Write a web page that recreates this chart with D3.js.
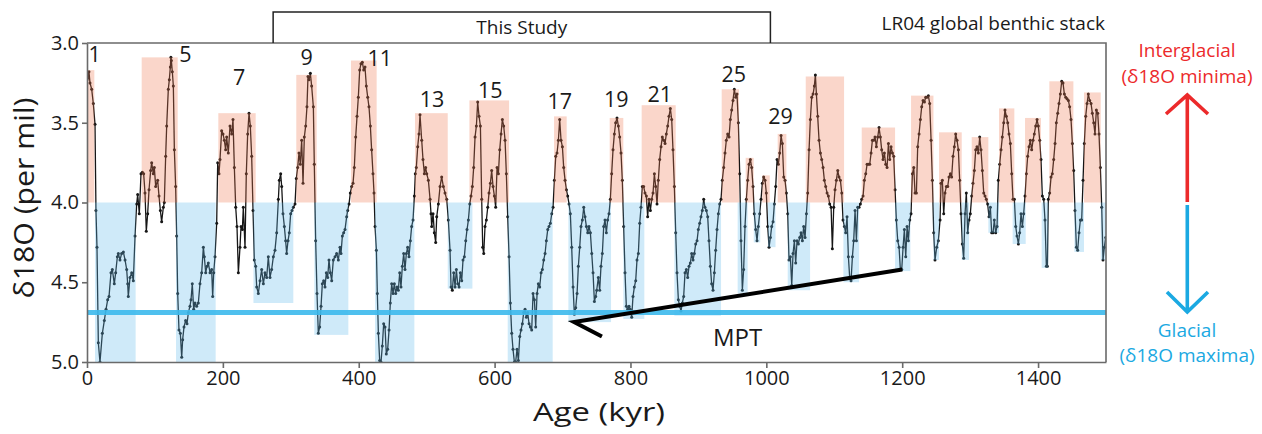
<!DOCTYPE html>
<html><head><meta charset="utf-8">
<script src="https://cdn.jsdelivr.net/npm/d3@7"></script>
<style>
body{margin:0;background:#fff}
text{font-family:"Open Sans",sans-serif}
</style>
</head><body>
<svg id="chart" width="1262" height="434"></svg>
<script>
// LR04 global benthic d18O stack, [age kyr, d18O per mil]
const lr04 = [
[0,3.23],[1,3.22],[2.9,3.18],[4.4,3.25],[6.9,3.29],[9.3,3.38],[11.8,3.51],[13.2,4.05],[14.7,4.28],[16.7,4.88],[19.1,5.00],
[22.6,4.82],[25.5,4.74],[28,4.67],[30.4,4.61],[32.4,4.59],[35.3,4.44],[37.3,4.42],[40.2,4.51],[42.2,4.44],[44.7,4.34],
[46.1,4.32],[48.6,4.36],[51,4.32],[53.5,4.31],[56,4.36],[58.4,4.42],[59.9,4.51],[60.8,4.59],[63.3,4.47],[65.8,4.44],
[68.2,4.49],[70.7,4.21],[73.1,4.01],[74.6,3.95],[77,4.07],[79.5,3.82],[81.5,3.81],[83.4,3.82],[85.4,3.94],[87.3,4.18],
[89.3,4.07],[91.3,3.92],[93.7,3.80],[95.2,3.75],[97.6,3.82],[99.1,3.78],[101.1,3.90],[104,3.86],[106,3.96],[108,4.05],
[109.9,4.12],[112.4,4.03],[113.8,4.00],[115.8,3.71],[117.3,3.52],[119.7,3.29],[121.2,3.23],[122.7,3.15],[123.5,3.09],[124.2,3.11],
[125.6,3.18],[127.1,3.27],[128.6,3.67],[130.5,3.90],[132,4.21],[133.5,4.57],[135.4,4.80],[137.4,4.82],[139.4,4.97],[140.8,4.86],
[142.8,4.78],[145.2,4.74],[147.2,4.76],[149.2,4.69],[151.6,4.65],[153.1,4.61],[155,4.51],[157,4.67],[159,4.63],[161.4,4.65],
[163.9,4.63],[166.3,4.51],[168.8,4.44],[171.3,4.28],[172.7,4.34],[174.7,4.44],[176.6,4.40],[178.6,4.38],[181.1,4.44],[183.5,4.42],
[185,4.59],[186.5,4.44],[188.4,4.34],[190.9,4.13],[192.4,3.75],[194.3,3.82],[195.8,3.73],[198.2,3.55],[200.2,3.57],[202.2,3.61],
[204.1,3.67],[205.6,3.59],[208,3.69],[210.5,3.52],[213,3.57],[214.9,3.48],[216.9,3.78],[218.9,4.03],[220.8,4.15],[222.8,4.44],
[225.2,4.28],[226.7,4.15],[228.7,4.17],[230.1,4.03],[232.6,4.28],[234.5,3.82],[236.5,3.57],[238.5,3.44],[240.4,3.52],[242.4,3.71],
[244.4,4.05],[246.3,4.36],[248.3,4.40],[249.8,4.53],[252.2,4.57],[254.7,4.49],[257.1,4.42],[259.6,4.51],[262,4.44],[264.5,4.47],
[266.9,4.34],[269.4,4.47],[271.8,4.42],[274.3,4.34],[276.7,4.30],[279.2,4.19],[281.7,3.98],[283.1,3.86],[285.1,3.82],[286.6,3.90],
[288.5,4.07],[290.5,4.15],[292.4,4.24],[293.9,4.32],[295.9,4.24],[297.8,4.19],[299.8,4.07],[301.8,4.05],[303.7,4.03],[306.2,4.01],
[308.1,3.85],[310.1,3.78],[312.1,3.69],[314,3.76],[316,3.61],[318,3.88],[319.9,3.59],[321.9,3.52],[323.8,3.40],[325.3,3.21],
[326.8,3.23],[328.8,3.19],[330.7,3.27],[333.2,3.40],[334.6,3.76],[336.6,4.24],[338.6,4.57],[340.5,4.82],[342.5,4.78],[344.5,4.65],
[346.4,4.51],[348.4,4.49],[350.3,4.53],[352.3,4.44],[354.3,4.47],[356.2,4.36],[358.2,4.44],[360.2,4.49],[362.6,4.36],[365.1,4.34],
[367.5,4.32],[370,4.36],[372.4,4.28],[373.9,4.32],[375.9,4.21],[377.8,4.19],[379.8,4.17],[382.2,4.09],[383.7,4.05],[385.7,4.01],
[387.6,3.94],[389.6,3.90],[391.6,3.88],[393.5,3.78],[395.5,3.59],[397.5,3.46],[399.4,3.34],[401.4,3.17],[403.3,3.13],[405.3,3.12],
[407.3,3.17],[409.2,3.15],[411.2,3.27],[413.2,3.34],[415.1,3.40],[417.1,3.52],[419,3.67],[421,3.82],[422.5,3.94],[424,4.15],
[426,4.30],[427.4,4.57],[428.9,4.82],[430.8,4.99],[432.8,5.00],[434.7,4.90],[436.7,4.76],[438.7,4.78],[440.6,4.95],[442.6,4.92],
[444.6,4.80],[446.5,4.63],[448.5,4.51],[450.5,4.57],[452.4,4.51],[454.4,4.57],[456.3,4.53],[458.3,4.55],[460.3,4.44],[462.2,4.53],
[464.2,4.40],[466.2,4.32],[468.1,4.42],[470.1,4.32],[472,4.28],[474,4.34],[476,4.24],[477.9,4.15],[479.9,4.11],[481.9,3.96],
[483.3,3.82],[484.8,3.78],[486.8,3.65],[488.7,3.57],[490.2,3.45],[492.7,3.61],[494.6,3.73],[496.6,3.82],[498.5,3.78],[500.1,3.82],
[502.5,3.86],[505,3.98],[506.4,4.07],[507.4,4.15],[509.4,4.07],[511.3,4.19],[513.3,4.25],[514.8,4.09],[517.2,4.01],[519.7,3.90],
[522.1,3.84],[524.6,3.90],[527,3.94],[529.5,3.98],[531.9,4.11],[534.4,4.30],[535.9,4.53],[537.8,4.55],[539.8,4.44],[541.8,4.53],
[543.7,4.42],[545.7,4.51],[547.7,4.53],[549.6,4.44],[551.6,4.49],[553.5,4.36],[555.5,4.34],[557.5,4.24],[559.4,4.17],[561.4,4.11],
[563.4,4.01],[565.3,3.96],[567.3,3.90],[569.2,3.78],[571.2,3.59],[573.2,3.52],[575.1,3.37],[577.1,3.46],[579.1,3.52],[581,3.98],
[582.5,4.28],[584,4.32],[585.9,4.15],[587.9,4.11],[589.9,4.03],[591.8,3.94],[593.8,3.88],[595.7,3.80],[597.7,3.90],[599.7,3.96],
[601.6,4.03],[603.6,3.78],[605.6,3.82],[607.5,3.67],[609.5,3.57],[611.4,3.48],[613.4,3.52],[615.4,3.61],[617.3,3.82],[619.3,4.09],
[621.3,4.34],[623.2,4.63],[625.2,4.82],[627.1,4.92],[629.1,5.00],[631,5.00],[633,4.92],[635,4.99],[637,4.84],[638.9,4.80],
[640.9,4.76],[642.8,4.69],[644.8,4.67],[646.8,4.72],[648.7,4.69],[650.7,4.76],[652.7,4.78],[654.6,4.80],[656.6,4.57],[658.6,4.61],
[660.5,4.78],[662.5,4.57],[664.4,4.51],[666.4,4.53],[668.4,4.44],[670.3,4.42],[672.3,4.36],[674.3,4.32],[676.2,4.24],[678.2,4.17],
[680.1,4.15],[682.1,4.13],[684.1,4.07],[686,4.03],[688,3.86],[690,3.71],[691.9,3.69],[693.9,3.61],[695.8,3.48],[697.8,3.61],
[699.8,3.65],[701.7,3.78],[703.7,3.86],[705.7,3.92],[707.6,3.96],[709.6,4.01],[711.5,4.07],[713.5,4.28],[715.5,4.53],[717.4,4.70],
[719.4,4.66],[721.4,4.57],[723.3,4.40],[725.3,4.28],[727.2,4.15],[729.2,4.11],[731.2,4.03],[733.1,4.09],[735.1,4.15],[737.1,4.19],
[739,4.15],[741,4.19],[743,4.32],[744.9,4.44],[746.9,4.62],[748.8,4.59],[750.3,4.55],[752.7,4.47],[754.7,4.55],[756.6,4.40],
[758.6,4.32],[760.6,4.15],[762.5,4.11],[764.5,4.19],[766.4,4.11],[768.4,4.07],[770.4,3.98],[772.3,3.82],[774.3,3.67],[776.3,3.57],
[778.2,3.50],[780.2,3.47],[782.2,3.52],[784.1,3.59],[786.1,3.69],[788,3.86],[790,4.15],[792,4.44],[793.9,4.65],[795.9,4.67],
[797.9,4.65],[799.8,4.67],[801.8,4.72],[803.7,4.59],[805.7,4.53],[807.7,4.49],[809.6,4.36],[811.6,4.32],[813.6,4.13],[815.5,4.03],
[817.5,3.90],[819.4,3.90],[821.4,3.94],[823.4,3.96],[825.3,4.09],[827.3,3.98],[829.3,4.05],[831.2,3.98],[833.2,3.94],[835.2,3.82],
[837.1,3.90],[839.1,4.01],[841,3.86],[843,3.73],[845,3.65],[846.9,3.59],[848.9,3.61],[850.9,3.63],[852.8,3.57],[854.8,3.52],
[856.7,3.46],[858.7,3.41],[860.7,3.48],[862.6,3.67],[864.6,3.90],[866.6,4.19],[868.5,4.44],[870.5,4.61],[872.4,4.65],[874.4,4.68],
[876.4,4.63],[878.3,4.59],[880.3,4.44],[882.3,4.42],[884.2,4.47],[886.2,4.40],[888.1,4.38],[890.1,4.32],[892.1,4.36],[894,4.32],
[896,4.26],[898,4.24],[899.9,4.17],[901.9,4.13],[903.8,4.09],[905.8,4.05],[907.8,3.98],[909.7,4.03],[911.7,4.05],[913.7,4.09],
[915.6,4.24],[917.6,4.40],[919.5,4.51],[921.5,4.55],[923.5,4.44],[925.4,4.30],[927.4,4.17],[929.4,4.07],[931.3,4.01],[933.3,3.98],
[935.2,3.86],[937.2,3.78],[939.2,3.69],[941.1,3.61],[943.1,3.57],[945.1,3.59],[947,3.48],[949,3.42],[950.9,3.36],[952.9,3.29],
[954.9,3.34],[956.8,3.32],[958.8,3.50],[960.8,3.82],[962.7,4.24],[964.7,4.55],[966.6,4.42],[968.6,4.15],[970.6,3.98],[972.5,3.86],
[974.5,3.76],[976.5,3.73],[978.4,3.78],[980.4,3.90],[982.3,4.07],[984.3,4.17],[986.3,4.24],[988.2,4.15],[990.2,4.07],[992.2,3.98],
[994.1,3.88],[996.1,3.84],[998.1,3.86],[1000,3.94],[1002,4.15],[1004,4.28],[1006,4.22],[1007.9,4.15],[1009.9,4.12],[1011.8,4.01],
[1013.8,3.90],[1015.8,3.73],[1017.7,3.76],[1019.7,3.69],[1021.7,3.58],[1023.6,3.63],[1025.6,3.84],[1027.5,3.86],[1029.5,3.94],[1031.5,4.07],
[1033.4,4.36],[1035.4,4.34],[1037.4,4.52],[1039.3,4.32],[1041.3,4.24],[1043.2,4.38],[1045.2,4.24],[1047.2,4.26],[1049.1,4.22],[1051.1,4.19],
[1053.1,4.24],[1055,4.15],[1057,4.22],[1059,4.07],[1060.9,3.94],[1062.9,3.67],[1064.8,3.48],[1066.8,3.34],[1068.8,3.32],[1070.7,3.27],
[1072.2,3.20],[1073.7,3.32],[1075.6,3.46],[1077.6,3.61],[1079.6,3.69],[1081.5,3.73],[1083.5,3.78],[1085.4,3.86],[1087.4,3.90],[1089.4,3.94],
[1091.3,3.96],[1093.3,4.01],[1095.3,4.03],[1097.2,4.29],[1099.2,4.03],[1101.1,3.92],[1103.1,3.86],[1105.1,3.80],[1107,3.84],[1109,3.86],
[1111,3.94],[1112.9,4.11],[1114.9,4.15],[1116.8,4.19],[1118.8,4.09],[1120.8,4.34],[1122.7,4.47],[1124.7,4.49],[1126.7,4.34],[1128.6,4.24],
[1130.6,4.05],[1132.6,4.24],[1134.5,4.03],[1136.5,4.03],[1138.4,4.01],[1140.4,3.98],[1142.4,3.96],[1144.3,3.86],[1146.3,3.82],[1148.3,3.76],
[1150.2,3.76],[1152.2,3.76],[1154.2,3.69],[1156.1,3.61],[1158.1,3.61],[1160,3.59],[1162,3.65],[1164,3.59],[1165.9,3.53],[1167.9,3.59],
[1169.8,3.67],[1171.8,3.73],[1173.8,3.69],[1175.7,3.76],[1177.7,3.78],[1179.7,3.63],[1181.6,3.73],[1183.6,3.65],[1185.6,3.69],[1187.5,3.71],
[1189.5,3.92],[1191.4,4.11],[1193.4,4.24],[1195.4,4.28],[1197.3,4.42],[1199.3,4.42],[1201.3,4.28],[1203.2,4.17],[1205.2,4.34],[1207.2,4.15],
[1209.1,4.24],[1211.1,4.11],[1213,4.07],[1215,3.82],[1217,3.78],[1218.9,3.94],[1220.9,3.94],[1222.8,3.65],[1224.8,3.57],[1226.8,3.48],
[1228.7,3.40],[1230.7,3.36],[1232.7,3.37],[1234.6,3.34],[1236.6,3.34],[1238.5,3.33],[1240.5,3.38],[1242.5,3.61],[1244.4,3.86],[1246.4,4.19],
[1248.3,4.36],[1250.8,4.28],[1253.2,4.24],[1255.7,4.11],[1257.1,3.88],[1259.1,3.86],[1261.1,4.07],[1263,3.94],[1265,3.90],[1267,3.90],
[1268.9,3.84],[1270.9,3.82],[1272.8,3.84],[1274.8,3.71],[1276.8,3.65],[1278.7,3.57],[1280.7,3.61],[1282.7,3.67],[1284.6,3.86],[1286.6,4.07],
[1288.5,4.26],[1290.5,4.35],[1292.5,4.07],[1294.4,3.94],[1296.4,4.19],[1298.4,4.11],[1300.3,4.07],[1302.3,3.96],[1304.2,3.88],[1306.2,3.80],
[1308.2,3.67],[1310.1,3.65],[1312.1,3.69],[1314.1,3.59],[1316,3.67],[1318,3.80],[1320,3.94],[1321.9,3.96],[1323.9,3.98],[1325.8,4.01],
[1327.8,4.09],[1329.8,4.03],[1331.7,4.19],[1333.7,4.19],[1335.6,4.11],[1337.6,4.19],[1339.6,4.15],[1341.5,3.86],[1343.5,3.76],[1345.5,3.67],
[1347.4,3.59],[1349.4,3.50],[1351.3,3.42],[1353.3,3.46],[1355.3,3.50],[1357.2,3.57],[1359.2,3.63],[1361.2,3.82],[1363.1,3.98],[1365.1,3.98],
[1367.1,4.15],[1369,4.21],[1371,4.26],[1372.9,4.19],[1374.9,4.07],[1376.9,4.15],[1378.8,4.07],[1380.8,3.96],[1382.8,3.82],[1384.7,3.71],
[1386.7,3.65],[1388.6,3.61],[1390.6,3.67],[1392.6,3.61],[1394.5,3.57],[1396.5,3.52],[1398.5,3.48],[1400.4,3.52],[1402.4,3.61],[1404.3,3.73],
[1406.3,3.96],[1408.3,3.98],[1410.2,4.11],[1412.2,4.40],[1413.7,4.40],[1415.1,3.98],[1417.1,3.94],[1419.1,3.84],[1421,3.82],[1423,3.73],
[1425,3.63],[1426.9,3.50],[1428.9,3.44],[1430.8,3.38],[1432.8,3.32],[1434.8,3.24],[1436.7,3.25],[1438.7,3.32],[1440.7,3.34],[1442.6,3.35],
[1444.6,3.36],[1446.5,3.40],[1448.5,3.48],[1450.5,3.63],[1452.4,3.80],[1454.4,4.05],[1456.4,4.28],[1458.3,4.30],[1460.3,4.19],[1462.3,4.11],
[1464.2,4.11],[1466.2,3.86],[1468.1,3.63],[1470.1,3.46],[1472.1,3.38],[1474,3.32],[1476,3.36],[1478,3.38],[1479.9,3.44],[1481.9,3.50],
[1483.8,3.57],[1485.8,3.42],[1487.8,3.44],[1489.7,3.57],[1491.7,3.78],[1493.7,4.03],[1495.6,4.36],[1497.6,4.28],[1499.5,4.22]
];

// interglacial intervals: [start kyr, end kyr, d18O minimum]
const interglacials = [
[0,10.8,3.17],[80.5,133.5,3.09],[193.3,248.3,3.44],[308.1,338.1,3.20],[388.6,426.4,3.11],[482.8,531,3.44],
[562.9,621.3,3.36],[687.5,706.1,3.46],[769.4,789.5,3.47],[816.5,866.6,3.39],[934.3,959.8,3.29],[969.6,981.4,3.72],
[994,1005,3.83],[1016.7,1029.5,3.57],[1058,1114.4,3.21],[1140.4,1189.5,3.53],[1213,1246,3.33],[1254.2,1287.6,3.56],
[1302.3,1326.8,3.59],[1342.5,1365.1,3.41],[1380.8,1404.3,3.47],[1416.6,1452,3.24],[1467.6,1492.2,3.31]
];
// glacial intervals: [start kyr, end kyr, d18O maximum]
const glacials = [
[11.8,71.6,5.0],[131,189.4,5.0],[245,303.7,4.63],[334.6,384.7,4.83],[424,481.9,5.0],[531,567.3,4.54],
[619.3,685.5,5.0],[708.6,771.4,4.75],[789.5,820.4,4.73],[864.6,933.3,4.71],[957.8,972.5,4.57],[981.5,991,4.25],
[1002.5,1013.5,4.28],[1031.5,1064.4,4.55],[1113.4,1136.5,4.50],[1189.5,1212,4.43],[1246,1254.2,4.36],[1287.6,1298.4,4.36],
[1326.8,1342.5,4.19],[1362.6,1381.8,4.26],[1405.3,1415.1,4.41],[1453.4,1467.6,4.31],[1492.2,1500,4.36]
];

// marine isotope stage labels and their anchor (age, d18O)
const misNames = ["1","5","7","9","11","13","15","17","19","21","25","29"];
const misAges  = [11.3,145,223.8,323.4,430.9,507.9,593.7,695.9,779.2,843.1,952.2,1020.9];
const misLevel = [3.117,3.117,3.263,3.138,3.144,3.401,3.347,3.416,3.403,3.372,3.246,3.508];

const xTicks = [0,200,400,600,800,1000,1200,1400];
const yTicks = [3.0,3.5,4.0,4.5,5.0];
const studyRange = [274,1006];
const threshold = 4.0;
const glacialLevel = 4.69;
const mpt = [[758,4.84],[717,4.75],[1200,4.42]];
const mptLabel = [957.6,4.898];

const svg = d3.select("#chart");
const x = d3.scaleLinear().domain([0,1500]).range([87,1106]);
const y = d3.scaleLinear().domain([3,5]).range([43,362]);

svg.append("defs").append("clipPath").attr("id","clip")
  .append("rect").attr("x",87).attr("y",43).attr("width",1019).attr("height",319);

const plot = svg.append("g").attr("clip-path","url(#clip)");

// curve
const line = d3.line().x(d=>x(d[0])).y(d=>y(d[1]));
plot.append("path").datum(lr04).attr("d",line)
  .attr("fill","none").attr("stroke","#161616").attr("stroke-width",1.3).attr("stroke-linejoin","round");
plot.selectAll("circle.pt").data(lr04).join("circle").attr("class","pt")
  .attr("cx",d=>x(d[0])).attr("cy",d=>y(d[1])).attr("r",1.5).attr("fill","#161616");

// shading overlays
plot.selectAll("rect.ig").data(interglacials).join("rect").attr("class","ig")
  .attr("x",d=>x(d[0])).attr("width",d=>x(d[1])-x(d[0]))
  .attr("y",d=>y(d[2])).attr("height",d=>y(threshold)-y(d[2]))
  .attr("fill","rgb(240,120,80)").attr("fill-opacity",0.3);
plot.selectAll("rect.gl").data(glacials).join("rect").attr("class","gl")
  .attr("x",d=>x(d[0])).attr("width",d=>x(d[1])-x(d[0]))
  .attr("y",y(threshold)).attr("height",d=>y(d[2])-y(threshold))
  .attr("fill","rgb(95,185,235)").attr("fill-opacity",0.3);

// glacial reference line
plot.append("line").attr("x1",x(0)).attr("x2",x(1500)).attr("y1",y(glacialLevel)).attr("y2",y(glacialLevel))
  .attr("stroke","rgb(60,185,236)").attr("stroke-opacity",0.9).attr("stroke-width",5);

// MPT line
svg.append("path").attr("d",d3.line().x(d=>x(d[0])).y(d=>y(d[1]))(mpt))
  .attr("fill","none").attr("stroke","#000").attr("stroke-width",4).attr("stroke-linejoin","miter");

// axes
const frameColor = "#6a6a6a";
const xAxis = svg.append("g").attr("transform",`translate(0,${y(5)})`)
  .call(d3.axisBottom(x).tickValues(xTicks).tickSize(6).tickSizeOuter(0).tickPadding(3).tickFormat(d3.format("d")));
const yAxis = svg.append("g").attr("transform",`translate(${x(0)},0)`)
  .call(d3.axisLeft(y).tickValues(yTicks).tickSize(5).tickSizeOuter(0).tickPadding(3).tickFormat(d3.format(".1f")));
[xAxis,yAxis].forEach(a=>{
  a.select(".domain").attr("stroke",frameColor).attr("stroke-width",1.6);
  a.selectAll(".tick line").attr("stroke",frameColor).attr("stroke-width",1.6);
  a.selectAll("text").attr("fill","#1a1a1a").style("font-family",'"Open Sans",sans-serif');
});
xAxis.selectAll("text").attr("font-size",20);
yAxis.selectAll("text").attr("font-size",20);
svg.append("path").attr("d",`M${x(0)},${y(3)}H${x(1500)}V${y(5)}`)
  .attr("fill","none").attr("stroke",frameColor).attr("stroke-width",1.6);

// text helper
function txt(px,py,s,size,o={}){
  const t = svg.append("text").attr("x",px).attr("y",py).attr("font-size",size)
    .attr("text-anchor",o.anchor||"middle").attr("fill",o.fill||"#1a1a1a").text(s);
  if(o.len) t.attr("textLength",o.len).attr("lengthAdjust","spacingAndGlyphs");
  if(o.transform) t.attr("transform",o.transform);
  return t;
}

// axis titles
txt(599,421,"Age (kyr)",26,{len:132});
txt(0,0,"δ18O (per mil)",28,{len:201,transform:"translate(34,198) rotate(-90)"});

// MIS labels
misNames.forEach((n,i)=>txt(x(misAges[i]),y(misLevel[i]),n,21.5));
txt(x(mptLabel[0]),y(mptLabel[1]),"MPT",24);

// This Study bracket
svg.append("path").attr("d",`M${x(studyRange[0])},${y(3)}V12H${x(studyRange[1])}V${y(3)}`)
  .attr("fill","none").attr("stroke","#222").attr("stroke-width",1.5);
txt((x(studyRange[0])+x(studyRange[1]))/2,34,"This Study",19);
txt(1105,30,"LR04 global benthic stack",19,{anchor:"end"});

// right-side legend
const red = "#ec2a2b", blue = "#1ba9e2";
txt(1187,57,"Interglacial",19,{fill:red});
txt(1187,83,"(δ18O minima)",19,{fill:red});
txt(1187,337,"Glacial",19,{fill:blue});
txt(1187,362,"(δ18O maxima)",19,{fill:blue});
svg.append("path").attr("d","M1187.3,202V96M1166,114L1187.3,95L1208,114")
  .attr("fill","none").attr("stroke",red).attr("stroke-width",3.6);
svg.append("path").attr("d","M1187.3,205V311M1167,292L1187.3,312L1208,292")
  .attr("fill","none").attr("stroke",blue).attr("stroke-width",3.6);
</script>
</body></html>
